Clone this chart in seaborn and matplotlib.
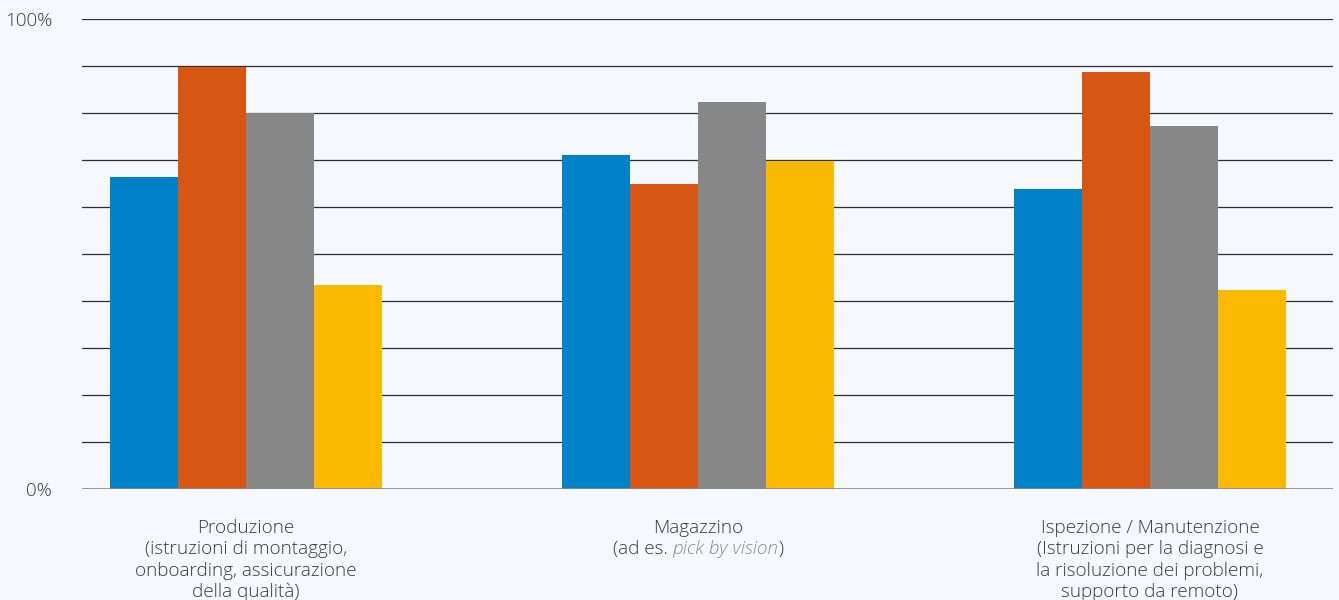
import matplotlib
matplotlib.use("Agg")
import matplotlib.pyplot as plt
from matplotlib.offsetbox import TextArea, HPacker, VPacker, AnnotationBbox
import seaborn as sns
import pandas as pd

# Categories and series values (percent)
categories = ["Produzione", "Magazzino", "Ispezione / Manutenzione"]
series_names = ["Serie 1", "Serie 2", "Serie 3", "Serie 4"]
serie_1 = [66.4, 71.1, 63.8]
serie_2 = [89.8, 64.9, 88.7]
serie_3 = [80.0, 82.3, 77.2]
serie_4 = [43.4, 69.8, 42.3]
colors = ["#0082C8", "#D85614", "#878787", "#FBB900"]

label_lines = [
    ["Produzione", "(istruzioni di montaggio,", "onboarding, assicurazione", "della qualità)"],
    ["Magazzino", ("(ad es. ", "pick by vision", ")")],
    ["Ispezione / Manutenzione", "(Istruzioni per la diagnosi e",
     "la risoluzione dei problemi,", "supporto da remoto)"],
]
y_ticks = [0, 100]
y_tick_labels = ["0%", "100%"]

rows = []
for name, vals in zip(series_names, [serie_1, serie_2, serie_3, serie_4]):
    for cat, v in zip(categories, vals):
        rows.append({"categoria": cat, "serie": name, "valore": v})
df = pd.DataFrame(rows)

bg = "#F5F9FD"
font = "Open Sans"
text_color = "#3a3a3a"
fs = 13.6

sns.set_style("white")
plt.rcParams["font.family"] = [font, "DejaVu Sans"]

fig = plt.figure(figsize=(13.39, 6.0), dpi=100, facecolor=bg)
ax = fig.add_axes([0.0612, 0.185, 0.9343, 0.783])
ax.set_facecolor(bg)

# Horizontal rules every 10%
for g in range(10, 101, 10):
    ax.axhline(g, color="#2f2f2f", lw=0.9, zorder=0)
ax.axhline(0, color="#8a8a8a", lw=1.2, zorder=3)

sns.barplot(data=df, x="categoria", y="valore", hue="serie", order=categories,
            hue_order=series_names, palette=colors, width=0.6, gap=0,
            saturation=1, linewidth=0, legend=False, ax=ax, zorder=2)

ax.set_xlim(-0.363, 2.405)
ax.set_ylim(0, 100)
ax.set_yticks(y_ticks)
ax.set_yticklabels(y_tick_labels, fontsize=fs, color=text_color, fontweight="light")
ax.tick_params(axis="y", length=0, pad=21.5)
ax.set_xticks(range(len(categories)))
ax.set_xticklabels([])
ax.tick_params(axis="x", length=0)
ax.set_xlabel("")
ax.set_ylabel("")
for s in ax.spines.values():
    s.set_visible(False)

# Multi-line category labels, with mixed styles where needed
tp = dict(fontsize=fs, color=text_color, family=[font, "DejaVu Sans"], fontweight="light")
for i, lines in enumerate(label_lines):
    rows_box = []
    for line in lines:
        if isinstance(line, tuple):
            pre, ital, post = line
            parts = [TextArea(pre, textprops=tp),
                     TextArea(ital, textprops=dict(tp, color="#8a8a8a", style="italic")),
                     TextArea(post, textprops=tp)]
            rows_box.append(HPacker(children=parts, pad=0, sep=0, align="baseline"))
        else:
            rows_box.append(TextArea(line, textprops=tp))
    box = VPacker(children=rows_box, pad=0, sep=2.4, align="center")
    ab = AnnotationBbox(box, (i, 0), xycoords=("data", "axes fraction"),
                        xybox=(0, -21.5), boxcoords="offset points",
                        box_alignment=(0.5, 1), frameon=False, annotation_clip=False)
    ax.add_artist(ab)

fig.savefig("out.png", dpi=100, facecolor=bg)
